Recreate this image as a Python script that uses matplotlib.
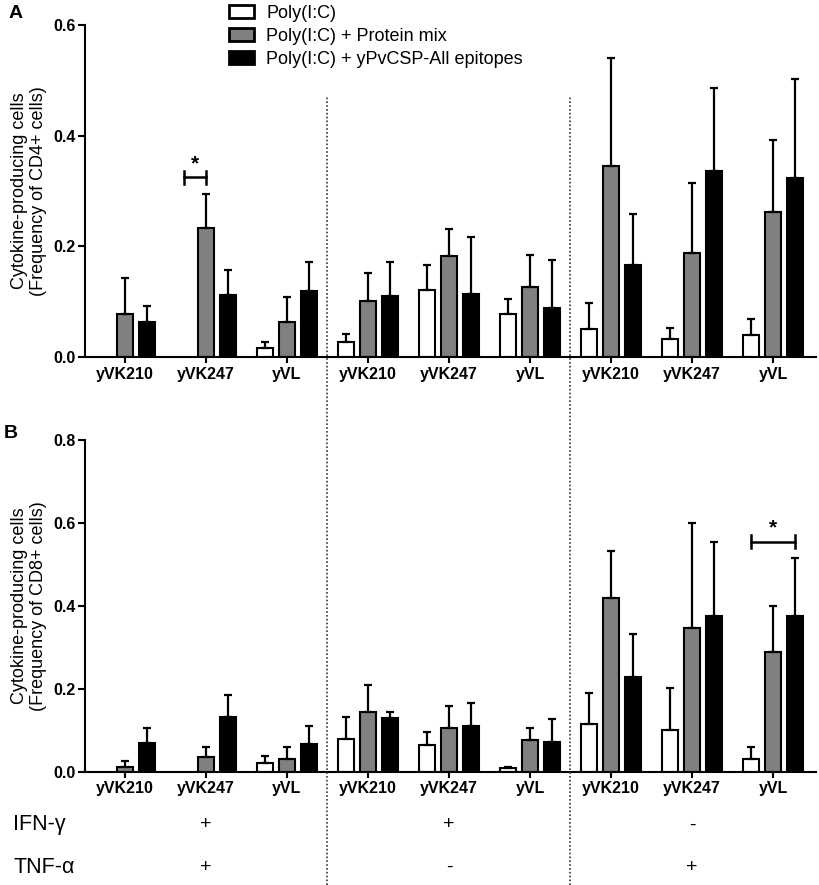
import numpy as np
import matplotlib
matplotlib.use("Agg")
import matplotlib.pyplot as plt
from matplotlib.patches import Rectangle
from matplotlib.lines import Line2D
import matplotlib.transforms as mtransforms

plt.rcParams['font.family'] = ['Liberation Sans', 'DejaVu Sans']

peptides = ["yVK210", "yVK247", "yVL"] * 3
series = ["Poly(I:C)", "Poly(I:C) + Protein mix", "Poly(I:C) + yPvCSP-All epitopes"]
colors = ["white", "#808080", "black"]
nan = np.nan

# panel A, CD4+
cd4_polyic = [nan, nan, 0.016, 0.028, 0.122, 0.077, 0.051, 0.032, 0.040]
cd4_polyic_sem = [nan, nan, 0.011, 0.014, 0.044, 0.027, 0.046, 0.021, 0.028]
cd4_protein = [0.077, 0.233, 0.063, 0.102, 0.182, 0.127, 0.345, 0.188, 0.262]
cd4_protein_sem = [0.065, 0.061, 0.046, 0.049, 0.049, 0.057, 0.195, 0.126, 0.131]
cd4_yeast = [0.063, 0.112, 0.119, 0.110, 0.113, 0.089, 0.166, 0.336, 0.323]
cd4_yeast_sem = [0.030, 0.045, 0.053, 0.062, 0.104, 0.087, 0.093, 0.151, 0.179]

# panel B, CD8+
cd8_polyic = [nan, nan, 0.020, 0.080, 0.064, 0.008, 0.114, 0.100, 0.030]
cd8_polyic_sem = [nan, nan, 0.018, 0.051, 0.033, 0.003, 0.077, 0.103, 0.029]
cd8_protein = [0.012, 0.036, 0.030, 0.145, 0.106, 0.076, 0.420, 0.346, 0.289]
cd8_protein_sem = [0.014, 0.023, 0.029, 0.064, 0.052, 0.029, 0.112, 0.253, 0.111]
cd8_yeast = [0.070, 0.133, 0.068, 0.130, 0.111, 0.072, 0.229, 0.376, 0.376]
cd8_yeast_sem = [0.035, 0.051, 0.043, 0.015, 0.055, 0.055, 0.102, 0.177, 0.139]

ifn_gamma = ["+", "+", "-"]
tnf_alpha = ["+", "-", "+"]

# significance: (group, bar i, bar j, height)
sig_a = [(1, 0, 1, 0.325)]
sig_b = [(8, 0, 2, 0.555)]

x = np.arange(len(peptides))
offset = 0.27
width = 0.2


def draw_panel(ax, vals, sems, ymax, yticks, ylabel, sig, tick_h):
    for k in range(3):
        v = np.array(vals[k])
        e = np.array(sems[k])
        pos = x + (k - 1) * offset
        ax.bar(pos, v, width, color=colors[k], edgecolor="black", linewidth=1.5, zorder=2)
        ax.errorbar(pos, v, yerr=[np.zeros_like(e), e], fmt="none", ecolor="black",
                    elinewidth=1.6, capsize=2.8, capthick=1.6, zorder=3)
    ax.set_xlim(-0.49, 8.53)
    ax.set_ylim(0, ymax)
    ax.set_yticks(yticks)
    ax.set_yticklabels(["%.1f" % t for t in yticks], fontweight="bold", fontsize=11.5)
    ax.set_xticks(x)
    ax.set_xticklabels(peptides, fontweight="bold", fontsize=11.5)
    ax.spines["top"].set_visible(False)
    ax.spines["right"].set_visible(False)
    ax.spines["left"].set_linewidth(1.5)
    ax.spines["bottom"].set_linewidth(1.5)
    ax.tick_params(axis="y", width=1.5, length=5, pad=2)
    ax.tick_params(axis="x", width=1.5, length=4, pad=3)
    ax.set_ylabel(ylabel, fontsize=13, linespacing=1.15)
    ax.yaxis.set_label_coords(-0.052, 0.5)
    for g, i, j, h in sig:
        x0 = g + (i - 1) * offset
        x1 = g + (j - 1) * offset
        ax.plot([x0, x1], [h, h], color="black", lw=1.8, clip_on=False)
        ax.plot([x0, x0], [h - tick_h, h + tick_h], color="black", lw=1.8, clip_on=False)
        ax.plot([x1, x1], [h - tick_h, h + tick_h], color="black", lw=1.8, clip_on=False)
        ax.text((x0 + x1) / 2, h + tick_h * 0.6, "*", ha="center", va="bottom",
                fontsize=15, fontweight="bold")


fig = plt.figure(figsize=(8.19, 8.85), dpi=100)
axA = fig.add_axes([0.1038, 0.5966, 0.8926, 0.3751])
axB = fig.add_axes([0.1038, 0.1280, 0.8926, 0.3748])

draw_panel(axA, [cd4_polyic, cd4_protein, cd4_yeast],
           [cd4_polyic_sem, cd4_protein_sem, cd4_yeast_sem],
           0.6, [0.0, 0.2, 0.4, 0.6],
           "Cytokine-producing cells\n(Frequency of CD4+ cells)", sig_a, 0.012)
draw_panel(axB, [cd8_polyic, cd8_protein, cd8_yeast],
           [cd8_polyic_sem, cd8_protein_sem, cd8_yeast_sem],
           0.8, [0.0, 0.2, 0.4, 0.6, 0.8],
           "Cytokine-producing cells\n(Frequency of CD8+ cells)", sig_b, 0.015)

# dotted separators running through both panels
trans = mtransforms.blended_transform_factory(axB.transData, fig.transFigure)
for sep in [2.5, 5.5]:
    fig.add_artist(Line2D([sep, sep], [0.0, 0.89], transform=trans, color="#333333",
                          lw=1.2, linestyle=(0, (1, 1.3))))

# cytokine rows
for row, signs, yy in [("IFN-\u03b3", ifn_gamma, 0.0678), ("TNF-\u03b1", tnf_alpha, 0.0203)]:
    fig.text(0.016, yy, row, fontsize=15.5, va="center", ha="left")
    for b, s in enumerate(signs):
        fig.text(1 + 3 * b, yy, s, transform=trans, fontsize=14, ha="center", va="center")

fig.text(0.010, 0.985, "A", fontsize=14, fontweight="bold", va="center")
fig.text(0.005, 0.510, "B", fontsize=14, fontweight="bold", va="center")

# legend
handles = [Rectangle((0, 0), 1, 1, facecolor=c, edgecolor="black", linewidth=2) for c in colors]
fig.legend(handles, series, loc="upper left", bbox_to_anchor=(0.277, 0.9965), frameon=False,
           fontsize=13, handlelength=1.4, handleheight=0.67, handletextpad=0.67,
           labelspacing=0.33, borderpad=0.1, borderaxespad=0)

fig.savefig("out.png", dpi=100)
